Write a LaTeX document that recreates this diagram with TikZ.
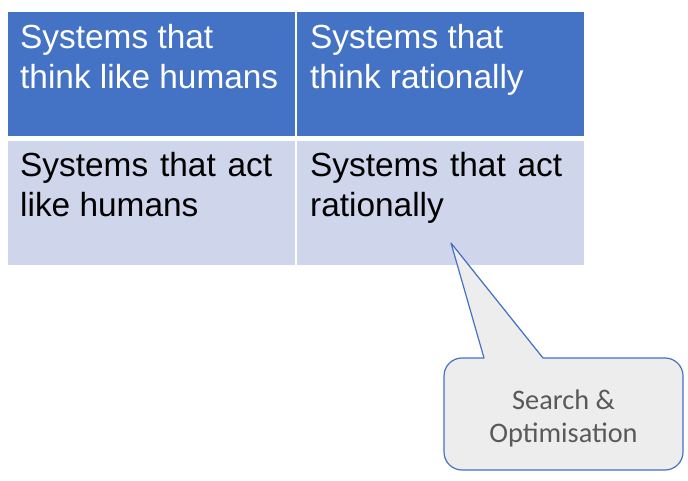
\documentclass[tikz,border=0pt]{standalone}
\usepackage{fontspec}
\setmainfont{Liberation Sans}
\newfontfamily\bubblefont{Carlito}
\usepackage{tikz}
\usetikzlibrary{positioning}
\definecolor{hdrblue}{RGB}{68,114,196}
\definecolor{rowlight}{RGB}{207,213,234}
\definecolor{bubblefill}{RGB}{237,237,237}
\definecolor{bubbletext}{RGB}{89,89,89}

\begin{document}
\begin{tikzpicture}[x=1pt,y=1pt,
    cell/.style={anchor=north west,inner sep=0,minimum width=286.5pt,minimum height=123.5pt},
    celltext/.style={anchor=north west,inner sep=0,align=left,font=\fontsize{33.4}{40}\selectfont}]
        \useasboundingbox (0,0) rectangle (688,480);
        % table cells
        \node[cell,fill=hdrblue] (thinkhum) at (8,468) {};
        \node[cell,fill=hdrblue,minimum width=287pt] (thinkrat) at (297,468) {};
        \node[cell,fill=rowlight,minimum height=124.5pt] (acthum) at (8,339.5) {};
        \node[cell,fill=rowlight,minimum width=287pt,minimum height=124.5pt] (actrat) at (297,339.5) {};
        % cell texts
        \node[celltext,white] (thinkhumtxt) at ([shift={(12,-12)}]thinkhum.north west) {Systems that\\think like humans};
        \node[celltext,white] (thinkrattxt) at ([shift={(13,-12)}]thinkrat.north west) {Systems that\\think rationally};
        \node[celltext] (acthumtxt) at ([shift={(12,-12)}]acthum.north west) {\makebox[252pt][s]{Systems that act}\\like humans};
        \node[celltext] (actrattxt) at ([shift={(13,-12)}]actrat.north west) {\makebox[252pt][s]{Systems that act}\\rationally};
        % callout
        \coordinate (tip) at (451,237);
        \draw[hdrblue,fill=bubblefill,line width=1.2pt,line join=round]
              (543,122) -- (665,122) arc[start angle=90,end angle=0,radius=18]
              -- (683,28) arc[start angle=0,end angle=-90,radius=18]
              -- (462,10) arc[start angle=270,end angle=180,radius=18]
              -- (444,104) arc[start angle=180,end angle=90,radius=18]
              -- (484,122) -- (tip) -- cycle;
        \node[align=center,text=bubbletext,font=\bubblefont\fontsize{28.3}{33}\selectfont] (bubble) at (563.5,61.5) {Search \&\\Optimisation};
\end{tikzpicture}
\end{document}
